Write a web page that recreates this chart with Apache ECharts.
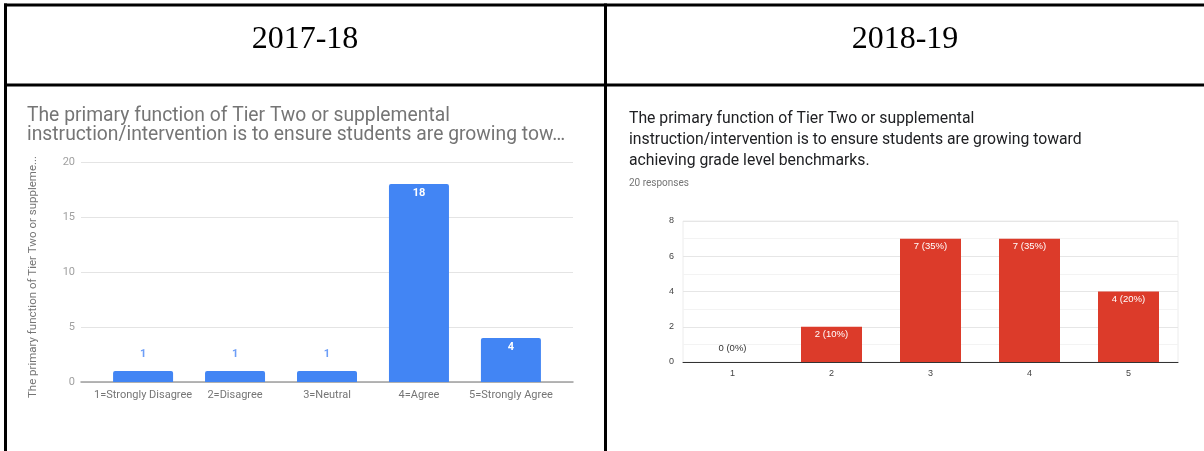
<!DOCTYPE html>
<html>
<head>
<meta charset="utf-8">
<script src="https://cdn.jsdelivr.net/npm/echarts@6/dist/echarts.min.js"></script>
<style>
  html, body { margin: 0; padding: 0; background: #fff; }
  #chart { width: 1204px; height: 451px; }
</style>
</head>
<body>
<div id="chart"></div>
<script>
// Survey item: "The primary function of Tier Two ..." — responses per rating
const yearHeaders = ['2017-18', '2018-19'];

const leftCategories = ['1=Strongly Disagree', '2=Disagree', '3=Neutral', '4=Agree', '5=Strongly Agree'];
const leftCounts = [1, 1, 1, 18, 4];
const leftTicks = [0, 5, 10, 15, 20];

const rightCategories = ['1', '2', '3', '4', '5'];
const rightCounts = [0, 2, 7, 7, 4];
const rightTicks = [0, 2, 4, 6, 8];

const questionShort = 'The primary function of Tier Two or supplemental\ninstruction/intervention is to ensure students are growing tow…';
const questionFull = 'The primary function of Tier Two or supplemental\ninstruction/intervention is to ensure students are growing toward\nachieving grade level benchmarks.';
const leftAxisName = 'The primary function of Tier Two or suppleme...';

const rightTotal = rightCounts.reduce((a, b) => a + b, 0);

const chart = echarts.init(document.getElementById('chart'), null, { renderer: 'canvas' });

const BLUE = '#4285f4';
const RED = '#dc3b2a';

// left panel: value-type x so bars sit at 1..5 with wide side padding
const leftMax = leftTicks[leftTicks.length - 1];
const leftData = leftCounts.map((v, i) => {
  const inside = v / leftMax > 0.1;
  return {
    value: [i + 1, v],
    label: inside
      ? { position: 'insideTop', distance: 4, color: '#ffffff' }
      : { position: 'top', distance: 11, color: '#6d9ef7' }
  };
});

const rightData = rightCounts.map((v) => {
  const inside = v > 0;
  return {
    value: v,
    label: inside
      ? { position: 'insideTop', distance: 3, color: '#ffffff' }
      : { position: 'top', distance: 9, color: '#333333' }
  };
});

const line = (x, y, w, h) => ({
  type: 'rect',
  shape: { x, y, width: w, height: h },
  style: { fill: '#000' },
  silent: true
});

const option = {
  animation: false,
  backgroundColor: '#ffffff',
  title: [
    {
      text: questionShort,
      left: 27, top: 107, padding: 0,
      textStyle: { fontFamily: 'Roboto', fontSize: 19.3, fontWeight: 'normal', color: '#757575', lineHeight: 19 }
    },
    {
      text: questionFull,
      left: 629, top: 109, padding: 0,
      textStyle: { fontFamily: 'Roboto', fontSize: 15.75, fontWeight: 'normal', color: '#202124', lineHeight: 21 }
    },
    {
      text: rightTotal + ' responses',
      left: 629, top: 178, padding: 0,
      textStyle: { fontFamily: 'Roboto', fontSize: 10, fontWeight: 'normal', color: '#757575' }
    }
  ],
  grid: [
    { left: 81, right: 1204 - 573, top: 162, bottom: 451 - 382, containLabel: false },
    { left: 683, right: 1204 - 1178, top: 221, bottom: 451 - 362, containLabel: false,
      show: true, borderColor: '#ececec', borderWidth: 1 }
  ],
  xAxis: [
    {
      type: 'value', gridIndex: 0, min: 0.325, max: 5.675,
      axisLine: { show: true, lineStyle: { color: '#9e9e9e', width: 1.5 } },
      axisTick: { show: false },
      splitLine: { show: false },
      axisLabel: {
        customValues: leftCategories.map((_, i) => i + 1),
        formatter: (v) => leftCategories[Math.round(v) - 1] || '',
        margin: 8,
        fontFamily: 'Roboto', fontSize: 11, color: '#757575'
      }
    },
    {
      type: 'category', gridIndex: 1, data: rightCategories,
      axisLine: { show: true, lineStyle: { color: '#333333', width: 1 } },
      axisTick: { show: false },
      axisLabel: { margin: 7, fontFamily: 'Liberation Sans', fontSize: 9, color: '#444444' }
    }
  ],
  yAxis: [
    {
      type: 'value', gridIndex: 0, min: leftTicks[0], max: leftMax, interval: leftTicks[1] - leftTicks[0],
      name: leftAxisName, nameLocation: 'middle', nameGap: 42, nameRotate: 90,
      nameTextStyle: { fontFamily: 'Roboto', fontSize: 11.5, color: '#757575', padding: [0, 10, 0, 0] },
      axisLine: { show: false }, axisTick: { show: false },
      axisLabel: { margin: 6, fontFamily: 'Roboto', fontSize: 11, color: '#a0a0a0' },
      splitLine: { show: true, lineStyle: { color: '#e4e4e4', width: 1 } }
    },
    {
      type: 'value', gridIndex: 1, min: rightTicks[0], max: rightTicks[rightTicks.length - 1],
      interval: rightTicks[1] - rightTicks[0],
      axisLine: { show: false }, axisTick: { show: false },
      axisLabel: { margin: 9, fontFamily: 'Liberation Sans', fontSize: 9, color: '#444444' },
      splitLine: { show: true, lineStyle: { color: '#e6e6e6', width: 1 } },
      minorTick: { show: false, splitNumber: 2 },
      minorSplitLine: { show: true, lineStyle: { color: '#f3f3f3', width: 1 } }
    }
  ],
  series: [
    {
      type: 'bar', xAxisIndex: 0, yAxisIndex: 0,
      data: leftData,
      barWidth: 60,
      itemStyle: { color: BLUE, borderRadius: [2, 2, 0, 0] },
      label: { show: true, fontFamily: 'Roboto', fontSize: 11, fontWeight: 'bold' }
    },
    {
      type: 'bar', xAxisIndex: 1, yAxisIndex: 1,
      data: rightData,
      barWidth: 61,
      itemStyle: { color: RED },
      label: {
        show: true, fontFamily: 'Liberation Sans', fontSize: 9.5,
        formatter: (p) => p.value + ' (' + Math.round(p.value / rightTotal * 100) + '%)'
      }
    }
  ],
  graphic: [
    // table rules
    line(4, 3.5, 1200, 3),
    line(4, 83.5, 1200, 3),
    line(4, 3.5, 3, 447.5),
    line(604, 3.5, 3, 447.5),
    {
      type: 'text', x: 305, y: 40,
      style: { text: yearHeaders[0], fontFamily: 'Liberation Serif', fontSize: 32, fill: '#000',
               align: 'center', verticalAlign: 'middle' }
    },
    {
      type: 'text', x: 905, y: 40,
      style: { text: yearHeaders[1], fontFamily: 'Liberation Serif', fontSize: 32, fill: '#000',
               align: 'center', verticalAlign: 'middle' }
    }
  ]
};

chart.setOption(option);
</script>
</body>
</html>
